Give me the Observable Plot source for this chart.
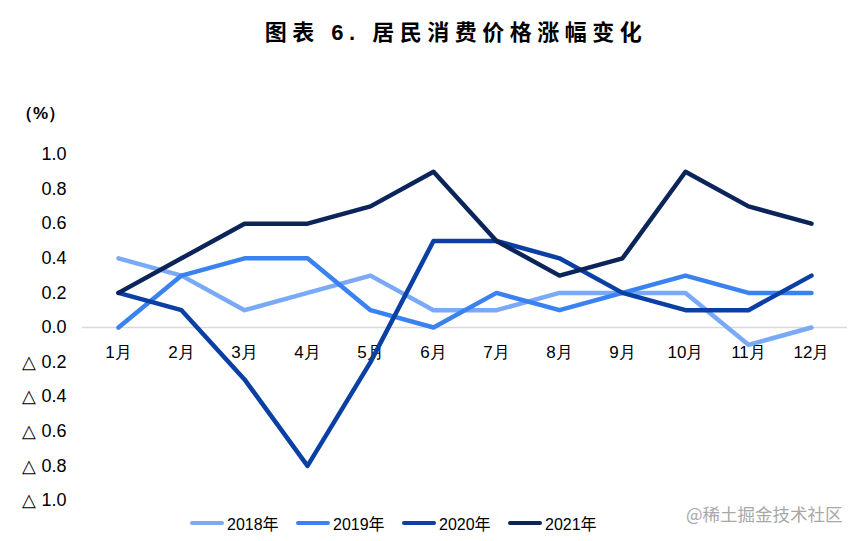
<!DOCTYPE html>
<html>
<head>
<meta charset="utf-8">
<script src="https://cdn.jsdelivr.net/npm/d3@7"></script>
<script src="https://cdn.jsdelivr.net/npm/@observablehq/plot@0.6"></script>
<style>
  body { margin: 0; background: #fff; font-family: "Liberation Sans", Arial, "Noto Sans CJK SC", sans-serif; }
  #wrap { position: relative; width: 862px; height: 541px; }
  #title { position: absolute; left: 0; top: 17px; width: 912px; text-align: center; font-family: "Liberation Sans", "Noto Sans CJK SC", sans-serif; font-weight: bold; font-size: 22px; letter-spacing: 5.5px; color: #000; line-height: 32px; }
  #chart { position: absolute; left: 0; top: 66px; }
  #legend { position: absolute; left: 190px; top: 511px; display: flex; font-size: 16px; color: #000; }
  .item { display: flex; align-items: center; width: 106px; }
  .sw { width: 34px; height: 4px; border-radius: 2px; margin-right: 3px; }
  #wm { position: absolute; left: 686px; top: 501px; font-family: "Noto Sans CJK SC", sans-serif; font-size: 17.5px; color: #a8a8a8; }
</style>
</head>
<body>
<div id="wrap">
  <div id="title">图表 6. 居民消费价格涨幅变化</div>
  <div id="chart"></div>
  <div id="legend"></div>
  <div id="wm">@稀土掘金技术社区</div>
</div>
<script>
const months = ["1月","2月","3月","4月","5月","6月","7月","8月","9月","10月","11月","12月"];
const seriesNames = ["2018年","2019年","2020年","2021年"];
const colors = ["#7aaaf6","#3a82ef","#0a3fa3","#0b2459"];
const v2018 = [0.4, 0.3, 0.1, 0.2, 0.3, 0.1, 0.1, 0.2, 0.2, 0.2, -0.1, 0.0];
const v2019 = [0.0, 0.3, 0.4, 0.4, 0.1, 0.0, 0.2, 0.1, 0.2, 0.3, 0.2, 0.2];
const v2020 = [0.2, 0.1, -0.3, -0.8, -0.2, 0.5, 0.5, 0.4, 0.2, 0.1, 0.1, 0.3];
const v2021 = [0.2, 0.4, 0.6, 0.6, 0.7, 0.9, 0.5, 0.3, 0.4, 0.9, 0.7, 0.6];
const yTicks = [1.0, 0.8, 0.6, 0.4, 0.2, 0.0, -0.2, -0.4, -0.6, -0.8, -1.0];

const allValues = [v2018, v2019, v2020, v2021];
const data = [];
allValues.forEach((vals, si) => vals.forEach((v, i) => data.push({series: seriesNames[si], month: months[i], value: v})));

const fmt = d => (d < 0 ? "△ " + Math.abs(d).toFixed(1) : d.toFixed(1));

const chart = Plot.plot({
  width: 862,
  height: 444,
  marginLeft: 82,
  marginRight: 15,
  marginTop: 88,
  marginBottom: 10,
  style: { fontFamily: "'Liberation Sans', Arial, sans-serif", fontSize: "18px", color: "#000", background: "#fff" },
  x: { type: "point", domain: months, padding: 0.5, axis: null },
  y: { domain: [-1, 1], axis: null },
  color: { domain: seriesNames, range: colors },
  marks: [
    Plot.ruleY([0], { stroke: "#d9d9d9", strokeWidth: 1.5 }),
    Plot.axisY({ ticks: yTicks, tickFormat: fmt, tickSize: 0, tickPadding: 16, label: null, fontSize: 18 }),
    Plot.text(months, { x: d => d, y: () => 0, dy: 25, fontSize: 17, fill: "#000" }),
    Plot.text(["（%）"], { frameAnchor: "top-left", textAnchor: "middle", lineAnchor: "middle", dx: -42, dy: -41, fontSize: 17, fontWeight: "bold", fill: "#000" }),
    Plot.line(data, { x: "month", y: "value", z: "series", stroke: "series", strokeWidth: 4.5, strokeLinejoin: "round", strokeLinecap: "round" })
  ]
});
document.getElementById("chart").appendChild(chart);

const legend = document.getElementById("legend");
seriesNames.forEach((s, i) => {
  const it = document.createElement("div");
  it.className = "item";
  const sw = document.createElement("div");
  sw.className = "sw";
  sw.style.background = colors[i];
  const lb = document.createElement("span");
  lb.textContent = s;
  it.appendChild(sw); it.appendChild(lb);
  legend.appendChild(it);
});
</script>
</body>
</html>
